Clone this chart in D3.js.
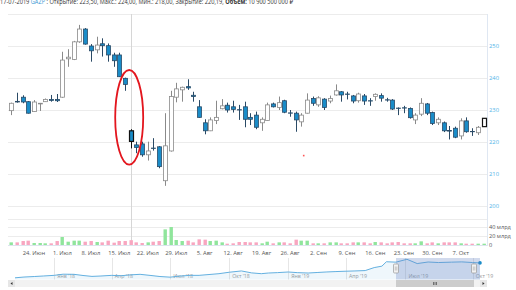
<!DOCTYPE html>
<html><head><meta charset="utf-8">
<script src="https://cdn.jsdelivr.net/npm/d3@7"></script>
<style>html,body{margin:0;padding:0;background:#fff;overflow:hidden}svg{display:block;font-family:"Open Sans","DejaVu Sans",sans-serif}</style>
</head><body><svg id="c" width="516" height="290"></svg>
<script>
// ---- DATA ----
const dates = [
"2019-06-18","2019-06-19","2019-06-20","2019-06-21",
"2019-06-24","2019-06-25","2019-06-26","2019-06-27","2019-06-28",
"2019-07-01","2019-07-02","2019-07-03","2019-07-04","2019-07-05",
"2019-07-08","2019-07-09","2019-07-10","2019-07-11","2019-07-12",
"2019-07-15","2019-07-16","2019-07-17","2019-07-18","2019-07-19",
"2019-07-22","2019-07-23","2019-07-24","2019-07-25","2019-07-26",
"2019-07-29","2019-07-30","2019-07-31","2019-08-01","2019-08-02",
"2019-08-05","2019-08-06","2019-08-07","2019-08-08","2019-08-09",
"2019-08-12","2019-08-13","2019-08-14","2019-08-15","2019-08-16",
"2019-08-19","2019-08-20","2019-08-21","2019-08-22","2019-08-23",
"2019-08-26","2019-08-27","2019-08-28","2019-08-29","2019-08-30",
"2019-09-02","2019-09-03","2019-09-04","2019-09-05","2019-09-06",
"2019-09-09","2019-09-10","2019-09-11","2019-09-12","2019-09-13",
"2019-09-16","2019-09-17","2019-09-18","2019-09-19","2019-09-20",
"2019-09-23","2019-09-24","2019-09-25","2019-09-26","2019-09-27",
"2019-09-30","2019-10-01","2019-10-02","2019-10-03","2019-10-04",
"2019-10-07","2019-10-08","2019-10-09","2019-10-10","2019-10-11"];
const open = [229.8,232.7,234.0,232.6,229.5,231.9,232.6,233.3,233.3,
234.0,246.0,245.8,251.3,255.3,250.0,248.8,250.7,250.1,247.2,
247.2,239.9,223.5,219.1,219.4,216.0,218.1,218.5,207.9,217.2,
234.0,236.3,237.3,234.6,231.0,226.0,223.5,226.7,230.4,231.5,
231.0,230.1,231.0,227.7,228.4,226.0,226.7,231.9,230.8,232.9,
229.1,229.0,226.3,229.0,233.6,231.6,233.4,232.8,234.7,235.7,
235.0,234.4,232.9,234.4,232.9,234.2,234.5,233.2,233.1,230.6,
230.7,230.5,226.9,228.7,231.9,229.2,226.0,226.0,223.6,224.3,
221.9,226.6,223.3,222.9,224.8];
const high = [232.3,235.4,234.6,232.8,233.1,232.2,233.6,234.7,235.0,
248.2,249.0,251.6,256.6,255.6,250.6,252.9,252.4,250.8,247.9,
247.9,240.1,224.0,220.1,220.1,220.1,221.2,218.7,229.0,236.0,
238.5,237.3,239.6,235.7,233.1,227.1,227.7,232.9,233.4,232.3,
232.9,231.6,232.6,229.0,229.5,227.7,232.3,232.3,234.2,233.2,
230.0,229.5,229.0,235.2,234.2,234.3,233.7,234.5,238.0,235.9,
235.7,234.7,235.4,235.0,233.7,235.2,235.2,233.8,233.4,230.8,
231.3,230.8,229.0,233.7,232.2,229.5,227.7,226.4,225.0,224.8,
227.4,227.7,224.3,225.0,227.5];
const low = [228.4,232.3,232.1,228.9,229.4,229.7,232.5,232.6,232.5,
233.8,243.5,245.6,251.0,250.4,245.1,247.7,246.7,245.1,243.5,
240.3,236.0,218.0,216.5,215.4,214.2,217.3,211.8,206.3,217.0,
232.4,232.6,236.3,232.6,227.6,222.4,223.4,225.6,230.2,229.2,
229.2,226.9,224.6,225.3,224.0,223.5,226.6,230.8,230.0,229.0,
227.9,223.2,224.8,228.9,231.3,231.0,230.0,232.1,234.5,232.6,
233.3,232.1,232.3,231.6,231.3,232.9,232.6,232.6,230.0,228.4,
229.0,227.3,225.6,228.1,228.4,225.3,225.3,223.1,220.8,221.2,
220.8,222.9,221.9,222.2,224.7];
const close = [232.1,232.5,232.5,229.0,232.5,232.1,233.3,233.0,232.9,
245.6,246.5,251.3,255.3,250.6,248.5,250.3,250.1,247.2,245.4,
240.4,238.0,220.19,218.3,216.0,217.2,218.0,212.3,218.8,234.2,
236.6,237.1,236.9,234.2,227.7,223.5,226.9,227.7,231.3,230.0,
230.2,230.0,227.1,227.1,224.6,227.1,231.6,231.0,232.3,229.3,
229.0,226.9,228.4,233.1,232.1,233.8,230.8,233.6,236.0,234.7,
234.9,232.8,235.0,232.8,232.8,234.9,233.7,233.1,230.3,230.5,
230.6,227.6,228.4,232.1,229.0,225.8,227.1,223.5,223.4,221.5,
226.6,223.2,223.2,224.6,227.4];
// volume, billions of roubles
const volume = [6.0,6.0,9.0,9.8,4.5,4.5,3.8,3.8,9.0,
18.1,7.5,9.8,9.8,7.5,9.0,6.8,6.0,9.8,5.3,
9.0,9.0,10.9005,6.0,4.5,6.0,7.5,9.0,35.4,40.7,
11.3,9.0,9.8,6.0,12.8,12.1,9.0,9.8,6.0,3.0,
3.8,6.8,6.8,6.0,6.0,3.8,7.5,3.8,6.0,6.0,
3.8,12.1,9.8,9.8,3.8,3.8,3.8,6.0,6.0,3.8,
3.8,6.0,6.0,6.0,3.8,6.8,6.0,3.8,6.0,6.8,
3.8,3.8,3.8,8.3,3.8,6.0,3.8,6.0,6.0,6.0,
3.8,3.0,3.0,3.0,3.0];
const tickDates = ["2019-06-24","2019-07-01","2019-07-08","2019-07-15","2019-07-22","2019-07-29",
"2019-08-05","2019-08-12","2019-08-19","2019-08-26","2019-09-02","2019-09-09","2019-09-16",
"2019-09-23","2019-09-30","2019-10-07"];
const tickLabels = ["24. Июн","1. Июл","8. Июл","15. Июл","22. Июл","29. Июл","5. Авг","12. Авг",
"19. Авг","26. Авг","2. Сен","9. Сен","16. Сен","23. Сен","30. Сен","7. Окт"];
const priceTicks = [200,210,220,230,240,250];
const priceGrid = [200,210,220,230,240,250,260];
const volTicks = [0,20,40];
const volTickLabels = ["0","20 млрд","40 млрд"];
const volGrid = [0,20,40,60];
// navigator (long history, close)
const navDates = ["2017-11-01","2017-11-15","2017-12-01","2017-12-15","2018-01-01","2018-01-15",
"2018-02-01","2018-02-15","2018-03-01","2018-03-15","2018-04-01","2018-04-15","2018-05-01",
"2018-05-15","2018-06-01","2018-06-15","2018-07-01","2018-07-15","2018-08-01","2018-08-15",
"2018-09-01","2018-09-15","2018-10-01","2018-10-20","2018-11-05","2018-11-20","2018-12-01",
"2018-12-15","2019-01-01","2019-01-15","2019-02-01","2019-02-15","2019-03-01","2019-03-15",
"2019-04-01","2019-04-15","2019-05-01","2019-05-15","2019-05-27","2019-06-03","2019-06-18",
"2019-07-03","2019-07-17","2019-08-01","2019-08-15","2019-09-02","2019-09-16","2019-10-01","2019-10-11"];
const navValues = [112,118,122,126,131,140,139,130,123,126,131,128,135,139,130,122,117,125,131,131,
138,144,155,165,150,144,149,152,157,152,149,153,157,160,163,165,168,191,202,236,233,
255,222,234,230,233,235,230,227];
const navTickDates = ["2018-01-01","2018-04-01","2018-07-01","2018-10-01","2019-01-01","2019-04-01","2019-07-01","2019-10-01"];
const navTickLabels = ["Янв '18","Апр '18","Июл '18","Окт '18","Янв '19","Апр '19","Июл '19","Окт '19"];
const hoverIndex = 21;
const ticker = "GAZP";

// ---- DRAW ----
const svg = d3.select("#c");
const L = 8, R = 487;
const x = d3.scalePoint().domain(dates).range([11.2, 483.5]);
const y = d3.scaleLinear().domain([200, 260]).range([206, 14]);
const yv = d3.scaleLinear().domain([0, 60]).range([245, 218.5]);
const BLUE = "#1a8cc8";

// header (partly above the top edge, as in the reference)
const f2 = v => d3.format(".2f")(v).replace(".", ",");
const hdrG = svg.append("g");
const hdr = hdrG.append("text").attr("x", 0).attr("y", 0).attr("font-size", 6.6).attr("fill", "#333");
const hd = dates[hoverIndex].split("-");
hdr.append("tspan").text(hd[2] + "-" + hd[1] + "-" + hd[0] + "  ");
hdr.append("tspan").attr("fill", "#3b97d3").text(ticker);
hdr.append("tspan").text(" : Открытие: " + f2(open[hoverIndex]) + ", Макс.: " + f2(high[hoverIndex]) +
  ", Мин.: " + f2(low[hoverIndex]) + ", Закрытие: " + f2(close[hoverIndex]) + ", ");
hdr.append("tspan").attr("font-weight", "bold").text("Объем:");
hdr.append("tspan").text(" " + d3.format(",")(Math.round(volume[hoverIndex] * 1e9)).replace(/,/g, " ") + " ₽");
const natW = hdr.node().getComputedTextLength();
hdrG.attr("transform", `translate(0,3.6) scale(${293 / natW},1)`);

// grids
svg.append("g").selectAll("line").data(priceGrid).join("line")
  .attr("x1", L).attr("x2", R).attr("y1", d => Math.round(y(d)) + 0.5).attr("y2", d => Math.round(y(d)) + 0.5)
  .attr("stroke", "#ececec");
svg.append("g").selectAll("line").data(volGrid).join("line")
  .attr("x1", L).attr("x2", R).attr("y1", d => Math.round(yv(d)) + 0.5).attr("y2", d => Math.round(yv(d)) + 0.5)
  .attr("stroke", (d) => d === 0 ? "#dde4ee" : "#ececec");
svg.append("line").attr("x1", R + 0.5).attr("x2", R + 0.5).attr("y1", 14).attr("y2", 246).attr("stroke", "#dfe7f2");

// price labels
svg.append("g").selectAll("text").data(priceTicks).join("text")
  .attr("x", R + 2).attr("y", d => y(d)).attr("dy", "0.35em").attr("font-size", 5.8).attr("fill", "#4fb4e8")
  .text(d => d);
svg.append("g").selectAll("text").data(volTicks).join("text")
  .attr("x", R + 2).attr("y", d => yv(d)).attr("dy", "0.35em").attr("font-size", 5.6).attr("fill", "#555")
  .text((d, i) => volTickLabels[i]);

// crosshair
const hx = Math.round(x(dates[hoverIndex])) + 0.5;
svg.append("line").attr("x1", hx).attr("x2", hx).attr("y1", 14).attr("y2", 245).attr("stroke", "#d6d6d6");

// volume bars
svg.append("g").selectAll("rect").data(dates).join("rect")
  .attr("x", d => Math.round(x(d)) - 1.5).attr("width", 3.4)
  .attr("y", (d, i) => yv(volume[i])).attr("height", (d, i) => yv(0) - yv(volume[i]))
  .attr("fill", (d, i) => close[i] >= open[i] ? "#90e59c" : "#f8a6c0");

// candles
const cg = svg.append("g");
dates.forEach((d, i) => {
  const cx = Math.round(x(d));
  const down = close[i] < open[i];
  const hov = i === hoverIndex || i === dates.length - 1;
  const stroke = hov ? "#111" : (down ? "#2a4a66" : "#8a8a8a");
  cg.append("line").attr("x1", cx + 0.5).attr("x2", cx + 0.5)
    .attr("y1", y(high[i])).attr("y2", y(low[i])).attr("stroke", stroke).attr("stroke-width", 1);
  const top = y(Math.max(open[i], close[i])), bot = y(Math.min(open[i], close[i]));
  cg.append("rect").attr("x", cx - 1.5).attr("width", 4)
    .attr("y", top).attr("height", Math.max(0.3, bot - top))
    .attr("fill", down ? BLUE : "#fff").attr("stroke", stroke).attr("stroke-width", hov ? 1.2 : 0.8);
});

// annotation ellipse around the gap
svg.append("ellipse").attr("cx", x(dates[hoverIndex]) - 1.5).attr("cy", y(227.7))
  .attr("rx", 14).attr("ry", y(212.9) - y(227.7))
  .attr("fill", "none").attr("stroke", "#e3161e").attr("stroke-width", 1.8);
svg.append("rect").attr("x", x(dates[51]) + 1.5).attr("y", y(216)).attr("width", 1.6).attr("height", 1.6).attr("fill", "#ff5555");

// x axis labels
svg.append("g").selectAll("text").data(tickDates).join("text")
  .attr("x", d => x(d)).attr("y", 255).attr("text-anchor", "middle").attr("font-size", 5.8).attr("fill", "#555")
  .text((d, i) => tickLabels[i]);

// navigator
const NT = 258, NB = 279.5;
const xn = d3.scaleTime()
  .domain([new Date(navDates[0]), new Date(dates[0]), new Date(dates[dates.length - 1])])
  .range([15, 396, 480]);
const yn = d3.scaleLinear().domain([99, 265]).range([NB, NT]);
svg.append("g").selectAll("line").data(navTickDates).join("line")
  .attr("x1", d => Math.round(xn(new Date(d))) + 0.5).attr("x2", d => Math.round(xn(new Date(d))) + 0.5)
  .attr("y1", NT).attr("y2", NB).attr("stroke", "#e6e6e6");
svg.append("g").selectAll("text").data(navTickDates).join("text")
  .attr("x", d => xn(new Date(d)) + 3).attr("y", 277.5).attr("font-size", 5.2).attr("fill", "#999")
  .text((d, i) => navTickLabels[i]);
const navPts = navDates.map((d, i) => [new Date(d), navValues[i]]);
svg.append("path").datum(navPts)
  .attr("d", d3.area().x(d => xn(d[0])).y0(NB).y1(d => yn(d[1])))
  .attr("fill", "rgba(100,176,224,0.10)");
svg.append("path").datum(navPts)
  .attr("d", d3.line().x(d => xn(d[0])).y(d => yn(d[1])))
  .attr("fill", "none").attr("stroke", "#63b0e0").attr("stroke-width", 1);
const last = navPts[navPts.length - 1];
svg.append("circle").attr("cx", xn(last[0])).attr("cy", yn(last[1])).attr("r", 1.8).attr("fill", "#1a8cc8");
const m0 = xn(new Date(dates[0])), m1 = xn(new Date(dates[dates.length - 1]));
svg.append("rect").attr("x", m0).attr("y", NT).attr("width", m1 - m0).attr("height", NB - NT)
  .attr("fill", "rgba(102,133,194,0.3)");
[m0, m1 - 6].forEach(hxp => {
  const g = svg.append("g").attr("transform", `translate(${Math.round(hxp)},264)`);
  g.append("rect").attr("x", -2.5).attr("y", 0).attr("width", 5).attr("height", 9).attr("rx", 1)
    .attr("fill", "#f2f2f2").attr("stroke", "#999").attr("stroke-width", 0.7);
  g.append("line").attr("x1", -0.7).attr("x2", -0.7).attr("y1", 2.5).attr("y2", 6.5).attr("stroke", "#999").attr("stroke-width", 0.5);
  g.append("line").attr("x1", 0.8).attr("x2", 0.8).attr("y1", 2.5).attr("y2", 6.5).attr("stroke", "#999").attr("stroke-width", 0.5);
});
// scrollbar
const SY = 280, SH = 7;
svg.append("rect").attr("x", L).attr("y", SY).attr("width", R - L).attr("height", SH).attr("fill", "#f2f2f2");
svg.append("rect").attr("x", m0).attr("y", SY).attr("width", (m1 - 6) - m0).attr("height", SH).attr("fill", "#cccccc");
const gx = (m0 + m1 - 6) / 2;
[-1.5, 0, 1.5].forEach(o => svg.append("line").attr("x1", gx + o).attr("x2", gx + o).attr("y1", SY + 2).attr("y2", SY + 5)
  .attr("stroke", "#333").attr("stroke-width", 0.6));
svg.append("rect").attr("x", L).attr("y", SY).attr("width", 7).attr("height", SH).attr("fill", "#e6e6e6");
svg.append("rect").attr("x", R - 7).attr("y", SY).attr("width", 7).attr("height", SH).attr("fill", "#e6e6e6");
svg.append("path").attr("d", `M${L + 2.5},${SY + 3.5} l2,-1.5 v3 z`).attr("fill", "#333");
svg.append("path").attr("d", `M${R - 2.5},${SY + 3.5} l-2,-1.5 v3 z`).attr("fill", "#333");
</script></body></html>
